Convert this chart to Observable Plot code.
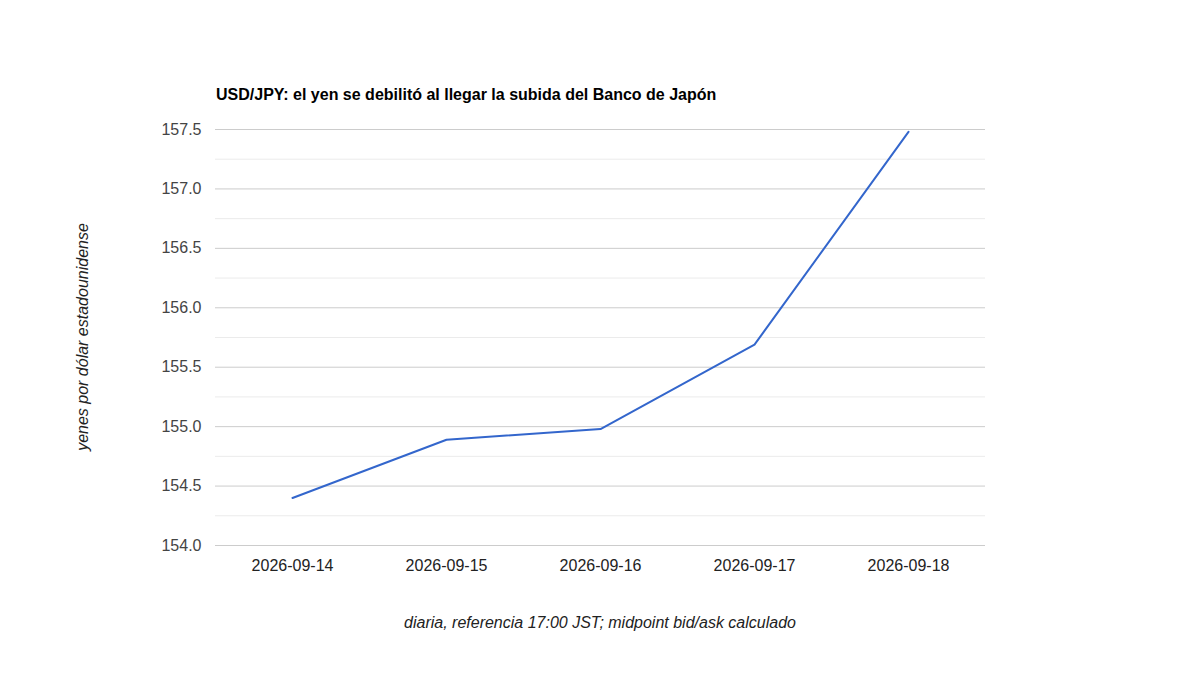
<!DOCTYPE html>
<html>
<head>
<meta charset="utf-8">
<script src="https://cdn.jsdelivr.net/npm/d3@7"></script>
<script src="https://cdn.jsdelivr.net/npm/@observablehq/plot@0.6"></script>
<style>
  body { margin: 0; background: #fff; font-family: "Liberation Sans", Arial, sans-serif; }
  #wrap { position: relative; width: 1200px; height: 675px; }
  #title { position: absolute; left: 216px; top: 86px; font-size: 16px; font-weight: bold; color: #000; white-space: nowrap; }
  #ylab { position: absolute; left: 83px; top: 337px; transform: translate(-50%, -50%) rotate(-90deg); font-size: 16px; font-style: italic; color: #222; white-space: nowrap; }
  #xlab { position: absolute; left: 600px; top: 623px; transform: translate(-50%, -50%); font-size: 16px; font-style: italic; color: #222; white-space: nowrap; }
  #chart { position: absolute; left: 0; top: 0; }
</style>
</head>
<body>
<div id="wrap">
  <div id="chart"></div>
  <div id="title">USD/JPY: el yen se debilitó al llegar la subida del Banco de Japón</div>
  <div id="ylab">yenes por dólar estadounidense</div>
  <div id="xlab">diaria, referencia 17:00 JST; midpoint bid/ask calculado</div>
</div>
<script>
const dates = ["2026-09-14", "2026-09-15", "2026-09-16", "2026-09-17", "2026-09-18"];
const rates = [154.40, 154.89, 154.98, 155.69, 157.48];
const majorTicks = [154.0, 154.5, 155.0, 155.5, 156.0, 156.5, 157.0, 157.5];
const minorTicks = [154.25, 154.75, 155.25, 155.75, 156.25, 156.75, 157.25];

const data = dates.map((d, i) => ({date: d, rate: rates[i]}));

const chart = Plot.plot({
  width: 1200,
  height: 675,
  marginLeft: 215,
  marginRight: 215,
  marginTop: 129,
  marginBottom: 130,
  style: {fontFamily: "'Liberation Sans', Arial, sans-serif", fontSize: "16px", color: "#444", background: "#fff"},
  x: {type: "point", domain: dates, padding: 0.5, label: null},
  y: {domain: [154, 157.5], label: null},
  marks: [
    Plot.ruleY(minorTicks, {stroke: "#ebebeb", strokeWidth: 1}),
    Plot.ruleY(majorTicks, {stroke: "#cccccc", strokeWidth: 1}),
    Plot.axisY({ticks: majorTicks, tickFormat: d3.format(".1f"), tickSize: 0, tickPadding: 14, fill: "#444", fontSize: 16, label: null}),
    Plot.axisX({tickSize: 0, tickPadding: 14, fill: "#222", fontSize: 16, label: null}),
    Plot.line(data, {x: "date", y: "rate", stroke: "#3366cc", strokeWidth: 2})
  ]
});
document.getElementById("chart").appendChild(chart);
</script>
</body>
</html>
